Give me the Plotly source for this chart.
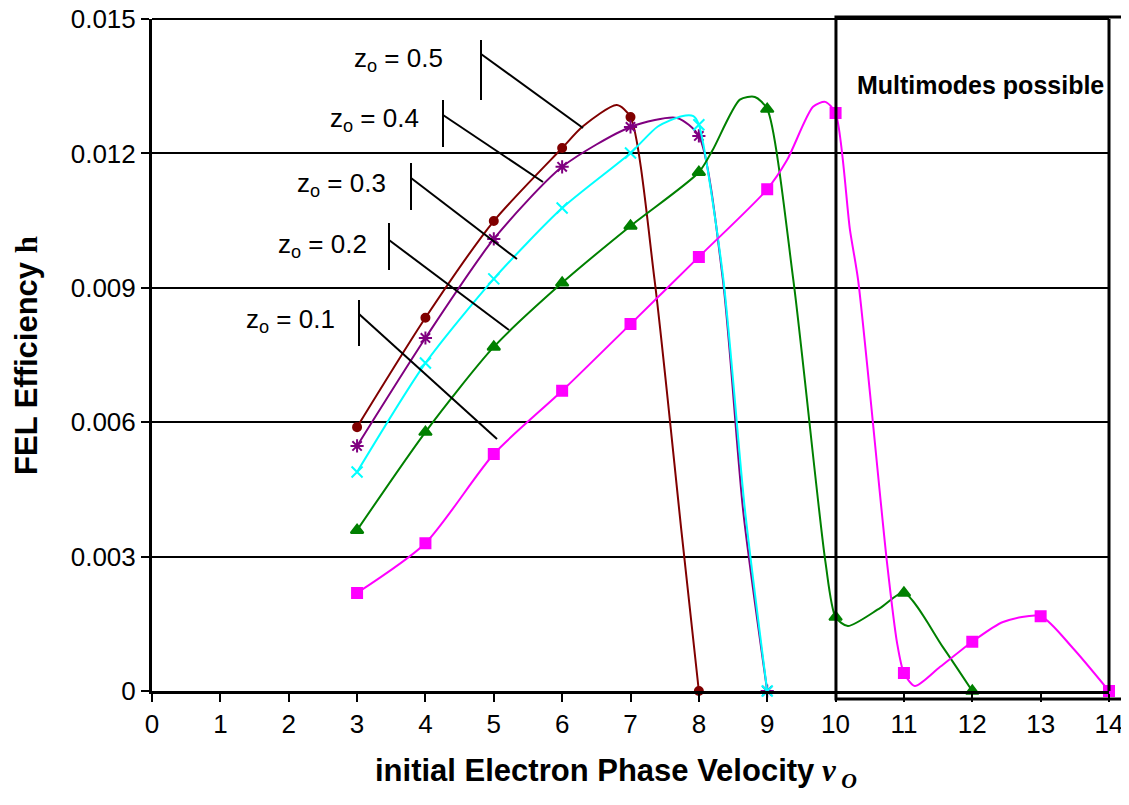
import plotly.graph_objects as go

# ---- data ----
# z_o = 0.5
z05_mx = [3, 4, 5, 6, 7, 8]
z05_my = [0.00589, 0.00833, 0.01049, 0.01212, 0.01281, 0.0]
z05_cx = [3, 4, 5, 6, 6.3, 6.8, 7, 7.35, 7.75, 8]
z05_cy = [0.00589, 0.00833, 0.01049, 0.01212, 0.0126, 0.01308, 0.01281, 0.0092, 0.0035, 0.0]

# z_o = 0.4
z04_mx = [3, 4, 5, 6, 7, 8, 9]
z04_my = [0.00547, 0.00788, 0.01009, 0.0117, 0.01259, 0.01239, 0.0]
z04_cx = [3, 4, 5, 6, 7, 7.68, 8, 8.35, 8.65, 9]
z04_cy = [0.00547, 0.00788, 0.01009, 0.0117, 0.01259, 0.01279, 0.01239, 0.0092, 0.0040, 0.0]

# z_o = 0.3
z03_mx = [3, 4, 5, 6, 7, 8, 9]
z03_my = [0.00489, 0.00732, 0.0092, 0.01078, 0.01201, 0.01264, 0.0]
z03_cx = [3, 4, 5, 6, 7, 7.4, 7.75, 7.92, 8, 8.35, 8.67, 9]
z03_cy = [0.00489, 0.00732, 0.0092, 0.01078, 0.01201, 0.0126, 0.01283, 0.01283, 0.01264, 0.0093, 0.0041, 0.0]

# z_o = 0.2
z02_mx = [3, 4, 5, 6, 7, 8, 9, 10, 11, 12]
z02_my = [0.00359, 0.00578, 0.00768, 0.00911, 0.01038, 0.01158, 0.01299, 0.00165, 0.00219, 0.0]
z02_cx = [3, 4, 5, 6, 7, 8, 8.2, 8.6, 8.82, 9, 9.38, 9.85, 10, 10.18, 10.65, 11, 11.57, 12]
z02_cy = [0.00359, 0.00578, 0.00768, 0.00911, 0.01038, 0.01158, 0.01207, 0.0132, 0.01326,
          0.01299, 0.0092, 0.0029, 0.00165, 0.00145, 0.00185, 0.00219, 0.00098, 0.0]

# z_o = 0.1
z01_mx = [3, 4, 5, 6, 7, 8, 9, 10, 11, 12, 13, 14]
z01_my = [0.00219, 0.0033, 0.00529, 0.0067, 0.00819, 0.00969, 0.0112, 0.0129, 0.0004, 0.0011, 0.00167, 0.0]
z01_cx = [3, 4, 5, 6, 7, 8, 9, 9.29, 9.67, 9.85, 10, 10.21, 10.33, 10.75, 10.9, 11, 11.16,
          11.53, 12, 12.45, 13, 13.47, 14]
z01_cy = [0.00219, 0.0033, 0.00529, 0.0067, 0.00819, 0.00969, 0.0112, 0.01185, 0.01304, 0.01315,
          0.0129, 0.0103, 0.00917, 0.0029, 0.00107, 0.0004, 0.00011, 0.00054, 0.0011, 0.00154,
          0.00167, 0.00096, 0.0]

y_tickvals = [0, 0.003, 0.006, 0.009, 0.012, 0.015]
y_ticktext = ["0", "0.003", "0.006", "0.009", "0.012", "0.015"]
x_tickvals = list(range(0, 15))

# callouts: label, text position, vertical bar (x, y0, y1), leader line (x0, y0, x1, y1)
callout_labels = ["0.5", "0.4", "0.3", "0.2", "0.1"]
callout_text_xy = [(3.599, 0.014085), (3.262, 0.012746), (2.779, 0.011295), (2.487, 0.009955), (2.033, 0.008281)]
callout_bars = [(4.813, 0.014531, 0.013192), (4.257, 0.013192, 0.012143), (3.789, 0.011786, 0.010737),
                (3.467, 0.010446, 0.009397), (3.028, 0.008728, 0.007701)]
callout_leaders = [(4.813, 0.014219, 6.305, 0.012567), (4.257, 0.012857, 5.720, 0.011362),
                   (3.789, 0.011451, 5.339, 0.009643), (3.467, 0.010067, 5.222, 0.008058),
                   (3.028, 0.008415, 5.047, 0.005625)]

series = [
    ("z0.5", z05_mx, z05_my, z05_cx, z05_cy, "#800000", "circle", 8),
    ("z0.4", z04_mx, z04_my, z04_cx, z04_cy, "#800080", "asterisk-open", 11),
    ("z0.3", z03_mx, z03_my, z03_cx, z03_cy, "#00FFFF", "x-thin-open", 11),
    ("z0.2", z02_mx, z02_my, z02_cx, z02_cy, "#008000", "triangle-up", 11),
    ("z0.1", z01_mx, z01_my, z01_cx, z01_cy, "#FF00FF", "square", 10),
]

FONT = "Liberation Sans, Arial, sans-serif"
SERIF = "Liberation Serif, Times New Roman, serif"

fig = go.Figure()
for name, mx, my, cx, cy, color, sym, size in series:
    fig.add_trace(go.Scatter(x=cx, y=cy, mode="lines", line=dict(color=color, width=2, shape="spline", smoothing=0.7),
                             showlegend=False, hoverinfo="skip", cliponaxis=False))
    fig.add_trace(go.Scatter(x=mx, y=my, mode="markers",
                             marker=dict(symbol=sym, size=size, color=color, line=dict(color=color, width=2)),
                             name=name, showlegend=False, cliponaxis=False))

shapes = []
annotations = []
for lab, (tx, ty), (bx, by0, by1), (lx0, ly0, lx1, ly1) in zip(callout_labels, callout_text_xy, callout_bars, callout_leaders):
    shapes.append(dict(type="line", xref="x", yref="y", x0=bx, x1=bx, y0=by0, y1=by1, line=dict(color="black", width=2)))
    shapes.append(dict(type="line", xref="x", yref="y", x0=lx0, x1=lx1, y0=ly0, y1=ly1, line=dict(color="black", width=2)))
    annotations.append(dict(x=tx, y=ty, xref="x", yref="y", showarrow=False,
                            text="z<sub>o</sub> = " + lab, font=dict(family=FONT, size=26, color="black"),
                            xanchor="center", yanchor="middle"))

# top gridline (at the end of the y range)
shapes.append(dict(type="line", xref="paper", yref="paper", x0=0, x1=1, y0=1, y1=1,
                   line=dict(color="black", width=2)))
# Multimodes box
shapes.append(dict(type="rect", xref="paper", yref="paper", x0=0.7147, x1=1.0188, y0=-0.0119, y1=1.003,
                   line=dict(color="black", width=3), fillcolor="rgba(0,0,0,0)"))
shapes.append(dict(type="line", xref="paper", yref="paper", x0=1.0, x1=1.0, y0=0, y1=1,
                   line=dict(color="black", width=3)))
annotations.append(dict(x=0.866, y=0.902, xref="paper", yref="paper", showarrow=False,
                        xanchor="center", yanchor="middle",
                        text="<b>Multimodes possible</b>", font=dict(family=FONT, size=25, color="black")))

# axis titles
annotations.append(dict(x=0.485, y=-0.122, xref="paper", yref="paper", showarrow=False, xanchor="center", yanchor="middle",
                        text="<b>initial Electron Phase Velocity</b>"
                             "<span style='font-family:" + SERIF + "'><b><i> v</i></b>"
                             "<sub><b><i> O</i></b></sub></span>",
                        font=dict(family=FONT, size=31, color="black")))
annotations.append(dict(x=-0.1317, y=0.5, xref="paper", yref="paper", showarrow=False, textangle=-90,
                        xanchor="center", yanchor="middle",
                        text="<b>FEL Efficiency </b><span style='font-family:" + SERIF + "'><b>h</b></span>",
                        font=dict(family=FONT, size=31, color="black")))

# page body has an 8px default margin, so the figure is offset by 8px
fig.update_layout(
    width=1121, height=797,
    margin=dict(l=144, r=20, t=11, b=114, autoexpand=False),
    paper_bgcolor="white", plot_bgcolor="white",
    shapes=shapes, annotations=annotations,
    font=dict(family=FONT, size=26, color="black"),
    xaxis=dict(range=[0, 14], tickvals=x_tickvals, ticks="outside", ticklen=8, tickwidth=2, tickcolor="black",
               showline=True, linecolor="black", linewidth=3, showgrid=False, zeroline=False, automargin=False,
               ticklabeloverflow="allow", tickfont=dict(family=FONT, size=26, color="black")),
    yaxis=dict(range=[0, 0.015], tickvals=y_tickvals, ticktext=y_ticktext, ticks="outside", ticklen=8, tickwidth=2,
               tickcolor="black", showline=True, linecolor="black", linewidth=3, showgrid=True, gridcolor="black",
               gridwidth=2, zeroline=False, automargin=False, ticklabeloverflow="allow",
               tickfont=dict(family=FONT, size=26, color="black")),
)

fig.write_html("out.html")
